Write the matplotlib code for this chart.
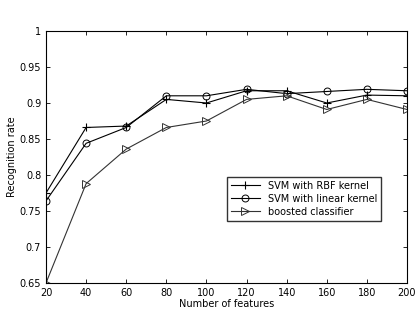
import numpy as np
import matplotlib.pyplot as plt

# number of features vs recognition rate
n_features = [20, 40, 60, 80, 100, 120, 140, 160, 180, 200]
svm_rbf = [0.775, 0.866, 0.868, 0.905, 0.900, 0.917, 0.917, 0.900, 0.911, 0.910]
svm_linear = [0.764, 0.844, 0.866, 0.910, 0.910, 0.919, 0.913, 0.916, 0.919, 0.917]
boosted = [0.650, 0.788, 0.836, 0.866, 0.875, 0.905, 0.910, 0.891, 0.905, 0.891]

yticks = [0.65, 0.7, 0.75, 0.8, 0.85, 0.9, 0.95, 1]
ytick_labels = ["0.65", "0.7", "0.75", "0.8", "0.85", "0.9", "0.95", "1"]

plt.rcParams['font.family'] = ['DejaVu Sans']
fig = plt.figure(figsize=(4.16, 3.12), dpi=100)
ax = fig.add_axes([46/416, 1 - 283/312, 361/416, 252/312])

ax.plot(n_features, svm_rbf, color='black', lw=0.8, marker='+', ms=6,
        mew=0.8, label='SVM with RBF kernel')
ax.plot(n_features, svm_linear, color='black', lw=0.8, marker='o', ms=5,
        mfc='none', mew=0.7, label='SVM with linear kernel')
ax.plot(n_features, boosted, color='#333333', lw=0.8, marker='>', ms=6,
        mfc='none', mew=0.7, label='boosted classifier')

ax.set_xlim(20, 200)
ax.set_ylim(0.65, 1)
ax.set_xticks(np.arange(20, 201, 20))
ax.set_yticks(yticks)
ax.set_yticklabels(ytick_labels)
ax.tick_params(direction='in', top=True, right=True, labelsize=7, length=3, width=0.6)
for s in ax.spines.values():
    s.set_linewidth(0.8)

ax.set_xlabel('Number of features', fontsize=7, labelpad=1)
ax.set_ylabel('Recognition rate', fontsize=7, labelpad=2)

ax.legend(loc='upper left', bbox_to_anchor=((227-46)/361, (283-177)/252),
          fontsize=7, frameon=True, fancybox=False, edgecolor='black',
          borderpad=0.4, labelspacing=0.3, handlelength=3.0, borderaxespad=0)

fig.savefig('out.png', dpi=100)
